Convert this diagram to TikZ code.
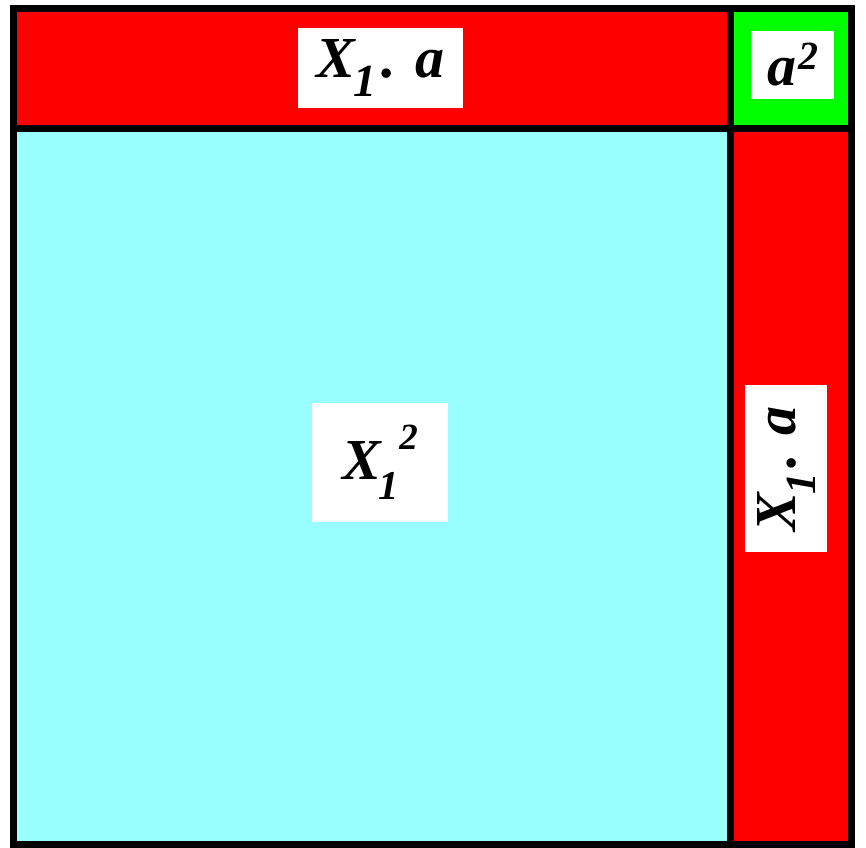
\documentclass[tikz,border=0pt]{standalone}
\usepackage{fontspec}
\setmainfont{Liberation Serif}
\definecolor{cyanfill}{HTML}{99FFFF}
\definecolor{redfill}{HTML}{FF0000}
\definecolor{greenfill}{HTML}{00FF00}
\newcommand{\bigf}{\fontsize{58}{60}\selectfont\bfseries\itshape}
\tikzset{
  region/.style={draw=black, line width=7pt},
  lbl/.style={fill=white, inner sep=0pt, font=\bigf, text=black, anchor=center},
}
\begin{document}
\begin{tikzpicture}[x=1pt,y=1pt]
\useasboundingbox (0,0) rectangle (866,847);
% regions
\fill[cyanfill] (13.5,2.5) rectangle (730.5,718.5);
\fill[redfill] (13.5,718.5) rectangle (730.5,838.5);
\fill[greenfill] (730.5,718.5) rectangle (851.5,838.5);
\fill[redfill] (730.5,2.5) rectangle (851.5,718.5);
\draw[region] (13.5,2.5) rectangle (730.5,718.5);
\draw[region] (13.5,718.5) rectangle (730.5,838.5);
\draw[region] (730.5,718.5) rectangle (851.5,838.5);
\draw[region] (730.5,2.5) rectangle (851.5,718.5);
% labels
\node[lbl, minimum width=165pt, minimum height=80pt] (top) at (380.5,779)
  {X\kern-2pt\raisebox{-19pt}{\fontsize{46}{46}\selectfont 1}\kern5pt. a};
\node[lbl, minimum width=83pt, minimum height=68pt] (corner) at (792.5,782)
  {a\kern2pt\raisebox{16pt}{\fontsize{40}{40}\selectfont 2}};
\node[lbl, minimum width=136pt, minimum height=119pt] (big) at (380,384.5)
  {X\kern-2pt\raisebox{-20pt}{\fontsize{41}{41}\selectfont 1}\kern0pt\raisebox{30pt}{\fontsize{37}{37}\selectfont 2}};
\node[lbl, minimum width=167pt, minimum height=82pt, rotate=90] (side) at (786,378.5)
  {X\kern-2pt\raisebox{-20pt}{\fontsize{43}{43}\selectfont 1}\kern4pt. a};
\end{tikzpicture}
\end{document}
